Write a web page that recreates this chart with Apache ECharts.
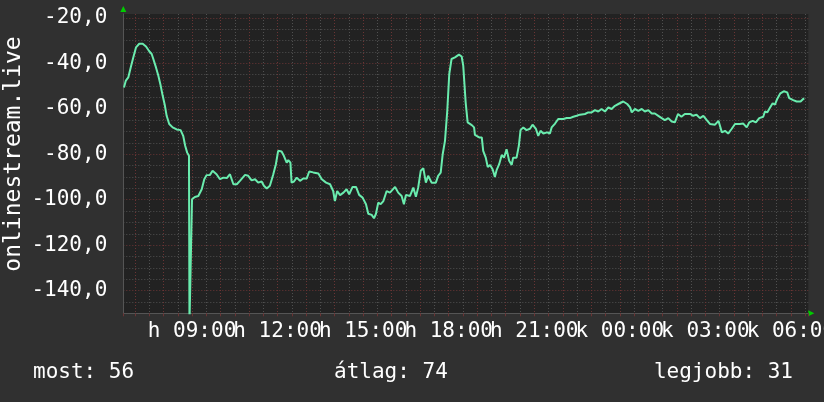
<!DOCTYPE html>
<html><head><meta charset="utf-8">
<script src="https://cdn.jsdelivr.net/npm/echarts@6/dist/echarts.min.js"></script>
<style>html,body{margin:0;padding:0;background:#303030;} #c{width:824px;height:402px;}</style>
</head><body><div id="c"></div>
<script>
// time in hours since midnight of day "h" (24+ = next day "k")
const hours = [6.614,6.68,6.765,6.85,6.94,7.035,7.15,7.27,7.386,7.50,7.585,7.64,7.736,7.817,7.90,7.97,8.05,8.11,8.20,8.32,8.46,8.60,8.69,8.76,8.83,8.893,8.91,8.96,9.00,9.10,9.22,9.34,9.43,9.51,9.63,9.72,9.86,9.98,10.10,10.22,10.33,10.45,10.57,10.68,10.86,10.97,11.09,11.21,11.32,11.44,11.52,11.62,11.73,11.85,11.94,12.02,12.14,12.22,12.32,12.375,12.45,12.49,12.575,12.67,12.785,12.90,13.02,13.11,13.25,13.43,13.55,13.70,13.84,13.95,14.01,14.09,14.19,14.31,14.42,14.51,14.63,14.75,14.86,14.98,15.10,15.18,15.30,15.38,15.45,15.53,15.615,15.71,15.825,15.94,16.12,16.23,16.35,16.43,16.50,16.64,16.76,16.85,16.93,17.02,17.11,17.20,17.28,17.40,17.55,17.63,17.72,17.79,17.87,17.95,18.02,18.10,18.22,18.36,18.455,18.51,18.595,18.665,18.81,18.89,18.92,19.07,19.16,19.21,19.30,19.37,19.45,19.54,19.62,19.68,19.77,19.86,19.94,20.03,20.12,20.21,20.26,20.38,20.46,20.52,20.615,20.73,20.85,20.94,21.06,21.14,21.22,21.32,21.45,21.55,21.61,21.73,21.84,22.02,22.14,22.25,22.37,22.49,22.60,22.78,22.89,23.01,23.13,23.245,23.36,23.48,23.60,23.71,23.83,23.95,24.12,24.26,24.36,24.42,24.53,24.65,24.77,24.88,25.00,25.12,25.23,25.35,25.47,25.58,25.70,25.82,25.93,26.04,26.16,26.28,26.46,26.575,26.69,26.81,26.93,27.05,27.16,27.34,27.46,27.58,27.69,27.80,27.92,28.04,28.21,28.33,28.45,28.54,28.66,28.77,28.89,29.03,29.09,29.17,29.26,29.36,29.44,29.52,29.63,29.75,29.87,29.94,30.08,30.20,30.34,30.43,30.47];
const values = [-50.6,-47.6,-46.2,-41.8,-37.4,-33,-31.4,-31.4,-32.6,-34.7,-35.9,-38,-41.8,-45.4,-49.8,-54.2,-58.7,-63.1,-66.7,-68.2,-69.1,-69.4,-71.9,-76.3,-79.3,-80.7,-155,-155,-99.8,-98.8,-98.4,-95.4,-91,-89.2,-89.1,-87.3,-88.8,-91,-90.3,-90.5,-88.8,-93.2,-93.2,-91.7,-89.1,-89.5,-91.5,-91,-92.5,-92,-93.9,-95.1,-93.9,-88.8,-84.4,-78.5,-78.8,-80.7,-83.7,-82.6,-83.7,-92.5,-92,-90.3,-91.7,-90.7,-90.7,-87.6,-88,-88.5,-91,-92.5,-93.2,-96.2,-100.6,-96.2,-98,-96.9,-95.4,-97.6,-94.4,-94.4,-97.9,-99.1,-102,-106.2,-106.7,-108.2,-106.2,-101.3,-102,-100.6,-96.2,-96.9,-94.4,-96.9,-98.4,-102,-97.9,-98.4,-94.7,-98.7,-94.7,-87.3,-86.1,-92.5,-89.5,-92.5,-92.5,-89.5,-88.1,-80,-74.1,-60.9,-44.7,-38.1,-37.4,-36.2,-37,-41,-57.2,-66,-67.2,-68.2,-71.5,-72.6,-72.6,-78.5,-81.5,-85.6,-84.7,-86.6,-90,-87,-84.4,-80.3,-81.5,-77.8,-82.9,-84.7,-81.5,-81.5,-76.3,-69.4,-68.2,-69.4,-68.8,-67,-68.9,-71.9,-69.7,-70.9,-70.4,-70.9,-68.2,-66.5,-64.5,-64.5,-64.1,-64.1,-63.5,-63.1,-62.6,-62.3,-61.6,-61.6,-60.6,-61.2,-60.1,-61.2,-59.4,-60.1,-58.7,-57.9,-56.8,-57.9,-59.4,-61.6,-60.1,-60.9,-60.1,-61.2,-60.6,-62.1,-62.1,-63.1,-64.1,-65,-64.1,-65.6,-66,-62.3,-63.5,-62.3,-62.3,-63.1,-62.6,-64.1,-63.1,-65,-66.7,-67,-65.3,-70.4,-69.7,-70.9,-68.9,-66.7,-66.7,-66.5,-68.2,-66,-65.3,-66,-64.1,-63.5,-61.2,-61.6,-59.7,-57.6,-58.2,-55.7,-53.2,-52.3,-52.8,-55.3,-56.2,-56.8,-56.8,-55.7,-55.5];
const xLabelHours = [9,12,15,18,21,24,27,30];
const dayPrefix = ['h','k'];
const yTickLabels = [-140,-120,-100,-80,-60,-40,-20];
const yTitle = 'onlinestream.live';
const legendTexts = ['most: 56','átlag: 74','legjobb: 31'];

const FONT = '"DejaVu Sans Mono", monospace';
const RED = '#6a3434', GREY = '#505050';
const gridL = 123.3, gridT = 14, gridR = 15.7, gridB = 88.7;

const chart = echarts.init(document.getElementById('c'), null, {renderer:'canvas'});
const pad = n => (n < 10 ? '0' : '') + n;
chart.setOption({
  animation: false,
  backgroundColor: '#303030',
  grid: {left: gridL, top: gridT, right: gridR, bottom: gridB, show: true, backgroundColor: '#222222', borderWidth: 0, containLabel: false, outerBoundsMode: 'none'},
  xAxis: {
    type: 'value', min: 6.59, max: 30.61, splitNumber: 48, minInterval: 0.5, maxInterval: 0.5,
    axisLine: {show: true, lineStyle: {color: '#555555', width: 1}},
    axisTick: {show: true, length: 3, lineStyle: {color: '#6a3434'}},
    splitLine: {show: true, showMinLine: false, showMaxLine: false, lineStyle: {color: [RED, GREY], type: [1,2], width: 1}},
    axisLabel: {
      color: '#ffffff', fontFamily: FONT, fontSize: 21, margin: 8, hideOverlap: false,
      showMinLabel: true, showMaxLabel: true,
      formatter: v => {
        const r = Math.round(v);
        if (Math.abs(v - r) > 1e-6 || xLabelHours.indexOf(r) < 0) return '';
        return dayPrefix[r >= 24 ? 1 : 0] + ' ' + pad(r % 24) + ':00';
      }
    }
  },
  yAxis: {
    type: 'value', min: -150, max: -18.3, interval: 5,
    axisLine: {show: true, lineStyle: {color: '#555555'}},
    axisTick: {show: false},
    splitLine: {show: true, showMinLine: false, showMaxLine: false, lineStyle: {color: [GREY, RED, GREY, GREY], type: [1,2], width: 1}},
    axisLabel: {
      color: '#ffffff', fontFamily: FONT, fontSize: 21, margin: 16,
      formatter: v => yTickLabels.indexOf(Math.round(v)) >= 0 && Math.abs(v - Math.round(v)) < 1e-6 ? v.toFixed(1).replace('.', ',') : ''
    }
  },
  series: [{
    type: 'line', data: hours.map((h, i) => [h, values[i]]), symbol: 'none', clip: true,
    lineStyle: {color: '#6aecae', width: 2}
  }],
  graphic: [
    {type: 'polygon', shape: {points: [[gridL-3, gridT-2], [gridL+3, gridT-2], [gridL, gridT-8]]}, style: {fill: '#00cc00'}},
    {type: 'polygon', shape: {points: [[824-gridR, 402-gridB-3], [824-gridR, 402-gridB+3], [824-gridR+6, 402-gridB]]}, style: {fill: '#00cc00'}},
    {type: 'text', x: 14, y: 154, rotation: Math.PI / 2, style: {text: yTitle, fill: '#ffffff', font: '23px ' + FONT, textAlign: 'center', textVerticalAlign: 'middle', verticalAlign: 'middle'}},
    {type: 'text', x: 33, y: 373, style: {text: legendTexts[0], fill: '#ffffff', font: '21px ' + FONT, textAlign: 'left', textVerticalAlign: 'middle', verticalAlign: 'middle'}},
    {type: 'text', x: 334, y: 373, style: {text: legendTexts[1], fill: '#ffffff', font: '21px ' + FONT, textAlign: 'left', textVerticalAlign: 'middle', verticalAlign: 'middle'}},
    {type: 'text', x: 793, y: 373, style: {text: legendTexts[2], fill: '#ffffff', font: '21px ' + FONT, textAlign: 'right', textVerticalAlign: 'middle', verticalAlign: 'middle'}}
  ]
});
</script></body></html>
